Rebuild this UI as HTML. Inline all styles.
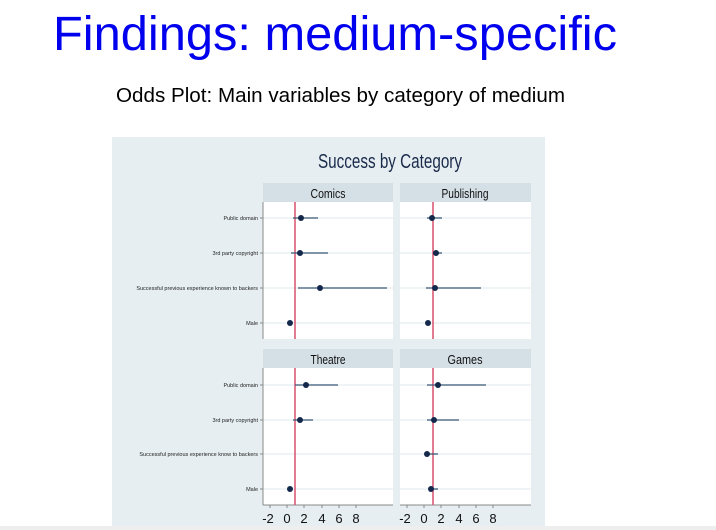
<!DOCTYPE html>
<html><head><meta charset="utf-8"><style>
html,body{margin:0;padding:0;background:#fff;width:716px;height:530px;overflow:hidden}
svg{display:block}
</style></head><body>
<svg width="716" height="530" viewBox="0 0 716 530" xmlns="http://www.w3.org/2000/svg" font-family="Liberation Sans, Arial, sans-serif">
<text x="53" y="50" font-size="48" fill="#0000ee" textLength="564" lengthAdjust="spacingAndGlyphs">Findings: medium-specific</text>
<text x="116" y="102" font-size="20" fill="#000" textLength="449" lengthAdjust="spacingAndGlyphs">Odds Plot:  Main variables by category of medium</text>
<rect x="112" y="137" width="433" height="393" fill="#e6eef1"/>
<rect x="0" y="526" width="716" height="4" fill="#eeeeee"/>
<text x="390" y="168" font-size="20" fill="#1a2a4a" text-anchor="middle" textLength="144" lengthAdjust="spacingAndGlyphs">Success by Category</text>
<rect x="263" y="183" width="130" height="19" fill="#d4dfe6"/>
<rect x="400" y="183" width="131" height="19" fill="#d4dfe6"/>
<rect x="263" y="349" width="130" height="19" fill="#d4dfe6"/>
<rect x="400" y="349" width="131" height="19" fill="#d4dfe6"/>
<g font-size="13" fill="#111" text-anchor="middle">
<text x="328" y="198" textLength="35" lengthAdjust="spacingAndGlyphs">Comics</text><text x="465" y="198" textLength="47" lengthAdjust="spacingAndGlyphs">Publishing</text>
<text x="328" y="364" textLength="35" lengthAdjust="spacingAndGlyphs">Theatre</text><text x="465" y="364" textLength="35" lengthAdjust="spacingAndGlyphs">Games</text>
</g>
<rect x="263" y="202" width="130" height="137" fill="#fff"/>
<rect x="400" y="202" width="131" height="137" fill="#fff"/>
<rect x="263" y="368" width="130" height="137" fill="#fff"/>
<rect x="400" y="368" width="131" height="137" fill="#fff"/>
<g stroke="#eaf1f3" stroke-width="1.5">
<line x1="263" y1="218" x2="393" y2="218"/><line x1="263" y1="253" x2="393" y2="253"/><line x1="263" y1="288" x2="393" y2="288"/><line x1="263" y1="323" x2="393" y2="323"/>
<line x1="400" y1="218" x2="531" y2="218"/><line x1="400" y1="253" x2="531" y2="253"/><line x1="400" y1="288" x2="531" y2="288"/><line x1="400" y1="323" x2="531" y2="323"/>
<line x1="263" y1="385" x2="393" y2="385"/><line x1="263" y1="420" x2="393" y2="420"/><line x1="263" y1="454" x2="393" y2="454"/><line x1="263" y1="489" x2="393" y2="489"/>
<line x1="400" y1="385" x2="531" y2="385"/><line x1="400" y1="420" x2="531" y2="420"/><line x1="400" y1="454" x2="531" y2="454"/><line x1="400" y1="489" x2="531" y2="489"/>
</g>
<g stroke="#888" stroke-width="1">
<line x1="263" y1="202" x2="263" y2="339"/><line x1="263" y1="368" x2="263" y2="505"/>
<line x1="260" y1="218" x2="263" y2="218"/><line x1="260" y1="253" x2="263" y2="253"/><line x1="260" y1="288" x2="263" y2="288"/><line x1="260" y1="323" x2="263" y2="323"/>
<line x1="260" y1="385" x2="263" y2="385"/><line x1="260" y1="420" x2="263" y2="420"/><line x1="260" y1="454" x2="263" y2="454"/><line x1="260" y1="489" x2="263" y2="489"/>
<line x1="263" y1="505" x2="393" y2="505"/><line x1="400" y1="505" x2="531" y2="505"/>
</g>
<g font-size="5.5" fill="#222" text-anchor="end">
<text x="258" y="220">Public domain</text>
<text x="258" y="255">3rd party copyright</text>
<text x="258" y="290">Successful previous experience known to backers</text>
<text x="258" y="325">Male</text>
<text x="258" y="387">Public domain</text>
<text x="258" y="422">3rd party copyright</text>
<text x="258" y="456">Successful previous experience know to backers</text>
<text x="258" y="491">Male</text>
</g>
<g stroke="#d9506e" stroke-width="1.5">
<line x1="295" y1="202" x2="295" y2="339"/><line x1="433" y1="202" x2="433" y2="339"/>
<line x1="295" y1="368" x2="295" y2="505"/><line x1="433" y1="368" x2="433" y2="505"/>
</g>
<g stroke="#3d5a78" stroke-width="1.3">
<line x1="293" y1="218" x2="318" y2="218"/><line x1="291" y1="253" x2="328" y2="253"/><line x1="298" y1="288" x2="387" y2="288"/>
<line x1="427" y1="218" x2="442" y2="218"/><line x1="433" y1="253" x2="442" y2="253"/><line x1="426" y1="288" x2="481" y2="288"/>
<line x1="295" y1="385" x2="338" y2="385"/><line x1="293" y1="420" x2="313" y2="420"/>
<line x1="427" y1="385" x2="486" y2="385"/><line x1="427" y1="420" x2="459" y2="420"/><line x1="425" y1="454" x2="438" y2="454"/><line x1="429" y1="489" x2="438" y2="489"/>
</g>
<g fill="#13284a">
<circle cx="301" cy="218" r="3"/><circle cx="300" cy="253" r="3"/><circle cx="320" cy="288" r="3"/><circle cx="290" cy="323" r="3"/>
<circle cx="432" cy="218" r="3"/><circle cx="436" cy="253" r="3"/><circle cx="435" cy="288" r="3"/><circle cx="428" cy="323" r="3"/>
<circle cx="306" cy="385" r="3"/><circle cx="300" cy="420" r="3"/><circle cx="290" cy="489" r="3"/>
<circle cx="438" cy="385" r="3"/><circle cx="434" cy="420" r="3"/><circle cx="427" cy="454" r="3"/><circle cx="431" cy="489" r="3"/>
</g>
<g stroke="#888"><line x1="270" y1="505" x2="270" y2="508"/><line x1="287" y1="505" x2="287" y2="508"/><line x1="304" y1="505" x2="304" y2="508"/><line x1="322" y1="505" x2="322" y2="508"/><line x1="339" y1="505" x2="339" y2="508"/><line x1="356" y1="505" x2="356" y2="508"/>
<line x1="407" y1="505" x2="407" y2="508"/><line x1="424" y1="505" x2="424" y2="508"/><line x1="441" y1="505" x2="441" y2="508"/><line x1="459" y1="505" x2="459" y2="508"/><line x1="476" y1="505" x2="476" y2="508"/><line x1="493" y1="505" x2="493" y2="508"/></g>
<g font-size="13" fill="#111" text-anchor="middle">
<text x="268" y="523">-2</text><text x="287" y="523">0</text><text x="304" y="523">2</text><text x="322" y="523">4</text><text x="339" y="523">6</text><text x="356" y="523">8</text>
<text x="405" y="523">-2</text><text x="424" y="523">0</text><text x="441" y="523">2</text><text x="459" y="523">4</text><text x="476" y="523">6</text><text x="493" y="523">8</text>
</g>
</svg>
</body></html>
